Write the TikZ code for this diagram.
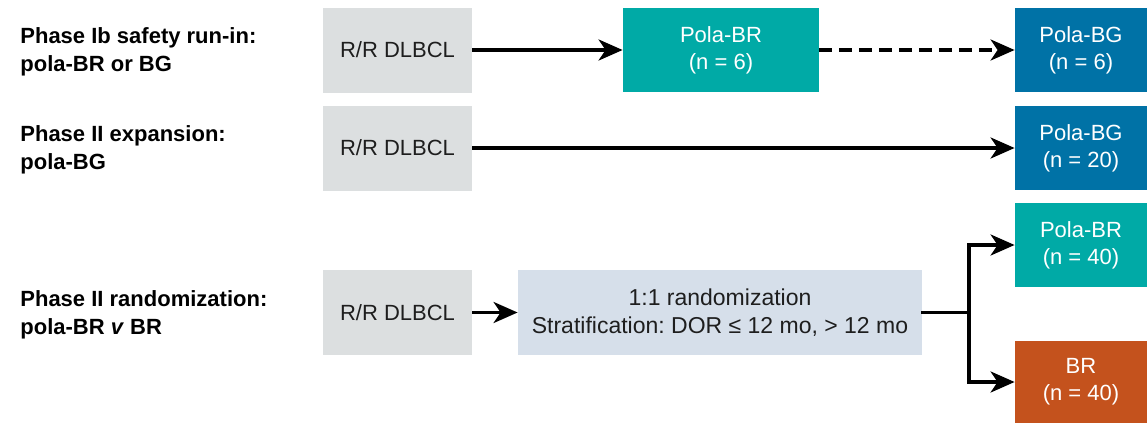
\documentclass[tikz,border=0pt]{standalone}
\usepackage{fontspec}
\setmainfont{Liberation Sans}
\frenchspacing
\usetikzlibrary{arrows.meta}
\definecolor{grayfill}{HTML}{DCDFE0}
\definecolor{tealfill}{HTML}{00AAA6}
\definecolor{bluefill}{HTML}{0072A6}
\definecolor{orangefill}{HTML}{C4521D}
\definecolor{lightblue}{HTML}{D6DFEA}
\definecolor{textdark}{HTML}{1E1E1E}
\tikzset{
  box/.style={rectangle, inner sep=0pt, align=center, font=\fontsize{11}{13.5}\selectfont},
  graybox/.style={box, fill=grayfill, text=textdark, minimum width=74.5pt, minimum height=42.5pt},
  armbox/.style={box, text=white, minimum width=66pt, minimum height=42pt},
  lab/.style={anchor=north west, align=left, inner sep=0pt, font=\fontsize{11}{14}\selectfont\bfseries},
  arr/.style={line width=1.75pt, line join=miter, -{Stealth[length=12pt, width=10.5pt, inset=3.5pt]}},
  conn/.style={line width=1.75pt, line cap=rect}
}
\begin{document}
\begin{tikzpicture}[x=0.5pt, y=-0.5pt]
\useasboundingbox (0,0) rectangle (1147,423);
% labels
\node[lab] (l1) at (20,27) {Phase Ib safety run-in:\\pola-BR or BG};
\node[lab] (l2) at (20,125) {Phase II expansion:\\pola-BG};
\node[lab] (l3) at (20,290) {Phase II randomization:\\pola-BR \textit{v} BR};
% row 1
\node[graybox] (g1) at (397.5,50) {R/R DLBCL};
\node[armbox, fill=tealfill, minimum width=98pt] (pbr1) at (721,50) {Pola-BR\\(n = 6)};
\node[armbox, fill=bluefill] (pbg1) at (1081,50) {Pola-BG\\(n = 6)};
% row 2
\node[graybox] (g2) at (397.5,148) {R/R DLBCL};
\node[armbox, fill=bluefill] (pbg2) at (1081,148) {Pola-BG\\(n = 20)};
% row 3
\node[graybox] (g3) at (397.5,312.5) {R/R DLBCL};
\node[box, fill=lightblue, text=textdark, minimum width=202pt, minimum height=42.5pt, font=\fontsize{11.5}{13.8}\selectfont] (rand) at (720,312.5) {1:1 randomization\\Stratification: DOR ≤ 12 mo, > 12 mo};
\node[armbox, fill=tealfill] (pbr3) at (1081,245) {Pola-BR\\(n = 40)};
\node[armbox, fill=orangefill, minimum height=41.5pt] (br3) at (1081,382) {BR\\(n = 40)};
\coordinate (split) at (969,312.5);
% connectors
\draw[arr] (g1) -- (pbr1);
\draw[arr, dash pattern=on 6.5pt off 3.5pt] (pbr1) -- (pbg1);
\draw[arr] (g2) -- (pbg2);
\draw[arr] (g3) -- (rand);
\draw[conn] (rand.east) -- (split);
\draw[arr] (split) -- (split |- pbr3.west) -- (pbr3.west);
\draw[arr] (split) -- (split |- br3.west) -- (br3.west);
\end{tikzpicture}
\end{document}
